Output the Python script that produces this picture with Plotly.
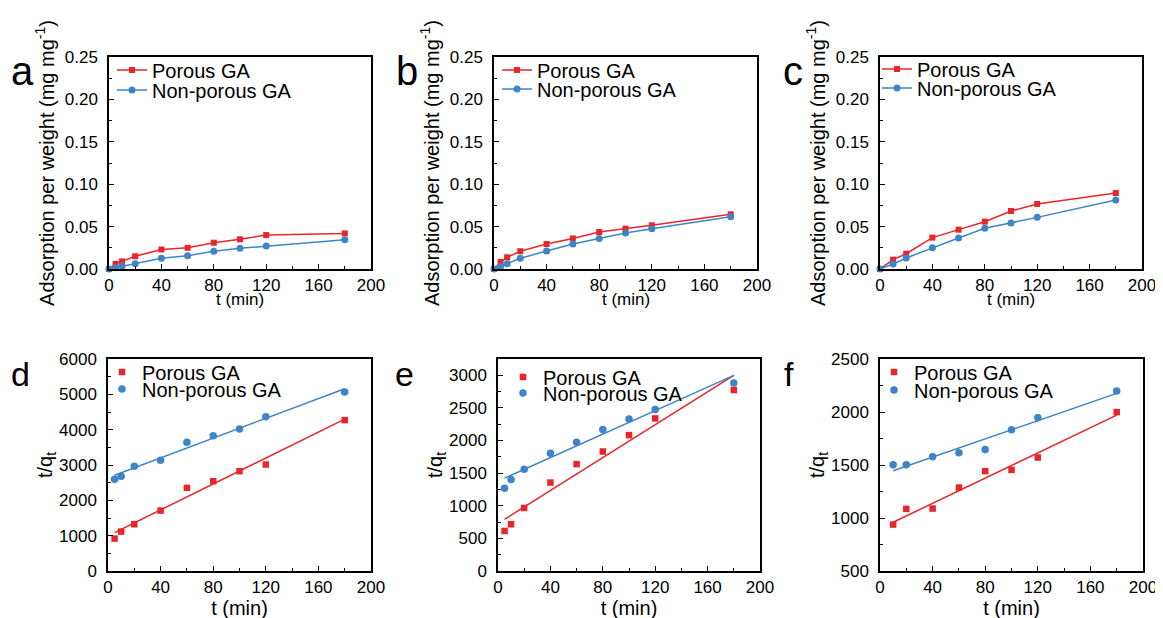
import plotly.graph_objects as go

# ---------------- data ----------------
t_a = [0, 5, 10, 20, 40, 60, 80, 100, 120, 180]
qa_porous = [0.0, 0.006, 0.009, 0.015, 0.023, 0.025, 0.031, 0.035, 0.040, 0.042]
qa_nonporous = [0.0, 0.0016, 0.0035, 0.0063, 0.0126, 0.0157, 0.021, 0.0244, 0.027, 0.0346]

t_b = [0, 5, 10, 20, 40, 60, 80, 100, 120, 180]
qb_porous = [0.0, 0.0083, 0.0138, 0.021, 0.0295, 0.036, 0.0436, 0.0476, 0.0515, 0.0645]
qb_nonporous = [0.0, 0.003, 0.0063, 0.0126, 0.0212, 0.0295, 0.036, 0.0425, 0.0476, 0.0617]

t_c = [0, 10, 20, 40, 60, 80, 100, 120, 180]
qc_porous = [0.0, 0.011, 0.018, 0.037, 0.0464, 0.0558, 0.0684, 0.0767, 0.0896]
qc_nonporous = [0.0, 0.0059, 0.013, 0.0252, 0.0366, 0.048, 0.0542, 0.0609, 0.0814]

t_d = [5, 10, 20, 40, 60, 80, 100, 120, 180]
td_porous = [917, 1115, 1323, 1710, 2353, 2542, 2825, 3014, 4271]
td_nonporous = [2599, 2684, 2967, 3137, 3647, 3827, 4016, 4366, 5065]
fit_t_d = [5, 180]
fit_d_porous = [1087, 4300]
fit_d_nonporous = [2712, 5160]

t_e = [5, 10, 20, 40, 60, 80, 100, 120, 180]
te_porous = [614, 716, 967, 1356, 1638, 1832, 2083, 2339, 2774]
te_nonporous = [1269, 1402, 1561, 1807, 1975, 2170, 2329, 2477, 2881]
fit_t_e = [5, 180]
fit_e_porous = [793, 2999]
fit_e_nonporous = [1423, 2999]

t_f = [10, 20, 40, 60, 80, 100, 120, 180]
tf_porous = [938, 1086, 1089, 1287, 1442, 1454, 1571, 1999]
tf_nonporous = [1502, 1502, 1577, 1615, 1646, 1832, 1946, 2198]
fit_t_f = [10, 180]
fit_f_porous = [960, 1971]
fit_f_nonporous = [1445, 2176]

series_names = ["Porous GA", "Non-porous GA"]
panel_letters = ["a", "b", "c", "d", "e", "f"]
x_ticks = [0, 40, 80, 120, 160, 200]
x_title = "t (min)"

# ---------------- style ----------------
W, H = 1163, 618
OFF = 8  # page body margin of the html page
RED = "#E8252B"
BLUE = "#3D85C6"
FONT = "Arial, 'Liberation Sans', sans-serif"


def px_x(p):
    return (p - OFF) / W


def px_y(p):
    return 1 - (p - OFF) / H


def xdom(p0, p1):
    return [px_x(p0), px_x(p1)]


def ydom(top, bottom):
    return [px_y(bottom), px_y(top)]


fig = go.Figure()

top_panels = [
    (t_a, qa_porous, qa_nonporous),
    (t_b, qb_porous, qb_nonporous),
    (t_c, qc_porous, qc_nonporous),
]
bottom_panels = [
    (t_d, td_porous, td_nonporous, fit_t_d, fit_d_porous, fit_d_nonporous),
    (t_e, te_porous, te_nonporous, fit_t_e, fit_e_porous, fit_e_nonporous),
    (t_f, tf_porous, tf_nonporous, fit_t_f, fit_f_porous, fit_f_nonporous),
]

legend_id = 0


def next_legend():
    global legend_id
    legend_id += 1
    return "legend" if legend_id == 1 else f"legend{legend_id}"


legend_names = []

for i, (t, qp, qn) in enumerate(top_panels):
    ax = "" if i == 0 else str(i + 1)
    lg1 = next_legend()
    lg2 = next_legend()
    legend_names.append((lg1, lg2))
    fig.add_trace(go.Scatter(
        x=t, y=qp, name=series_names[0], mode="lines+markers",
        line=dict(color=RED, width=1.5),
        marker=dict(symbol="square", size=6, color=RED),
        xaxis="x" + ax, yaxis="y" + ax, legend=lg1, cliponaxis=False))
    fig.add_trace(go.Scatter(
        x=t, y=qn, name=series_names[1], mode="lines+markers",
        line=dict(color=BLUE, width=1.5),
        marker=dict(symbol="circle", size=7, color=BLUE),
        xaxis="x" + ax, yaxis="y" + ax, legend=lg2, cliponaxis=False))

for j, (t, yp, yn, ft, fp, fn) in enumerate(bottom_panels):
    ax = str(j + 4)
    lg1 = next_legend()
    lg2 = next_legend()
    legend_names.append((lg1, lg2))
    fig.add_trace(go.Scatter(
        x=ft, y=fp, mode="lines", line=dict(color=RED, width=1.5),
        showlegend=False, xaxis="x" + ax, yaxis="y" + ax, hoverinfo="skip"))
    fig.add_trace(go.Scatter(
        x=ft, y=fn, mode="lines", line=dict(color=BLUE, width=1.5),
        showlegend=False, xaxis="x" + ax, yaxis="y" + ax, hoverinfo="skip"))
    fig.add_trace(go.Scatter(
        x=t, y=yp, name=series_names[0], mode="markers",
        marker=dict(symbol="square", size=6.5, color=RED),
        xaxis="x" + ax, yaxis="y" + ax, legend=lg1, cliponaxis=False))
    fig.add_trace(go.Scatter(
        x=t, y=yn, name=series_names[1], mode="markers",
        marker=dict(symbol="circle", size=7.5, color=BLUE),
        xaxis="x" + ax, yaxis="y" + ax, legend=lg2, cliponaxis=False))

# panel geometry (reference pixels)
xpix = [(109, 371), (494, 757), (880, 1142), (108, 371), (498, 760), (880, 1143)]
ypix = [(57, 269)] * 3 + [(359, 571)] * 3
yranges = [[0, 0.25]] * 3 + [[0, 6000], [0, 3250], [500, 2500]]
ydticks = [0.05] * 3 + [1000, 500, 500]
yminor = [0.025] * 3 + [500, 250, 250]
yfmt = [".2f"] * 3 + ["d"] * 3
ytitles = ["Adsorption per weight (mg mg<sup>-1</sup>)"] * 3 + ["t/q<sub>t</sub>"] * 3

layout = dict(
    width=W, height=H, paper_bgcolor="white", plot_bgcolor="white",
    margin=dict(l=0, r=0, t=0, b=0, autoexpand=False),
    font=dict(family=FONT, color="black", size=17),
)

annotations = []
for k in range(6):
    ax = "" if k == 0 else str(k + 1)
    top = k < 3
    xaxis = dict(
        domain=xdom(*xpix[k]), anchor="y" + ax, range=[0, 200],
        tickmode="array", tickvals=x_ticks,
        ticks="inside", ticklen=5, tickwidth=1, tickcolor="black",
        minor=dict(ticks="inside", ticklen=3, dtick=20, tickcolor="black"),
        showline=True, linecolor="black", linewidth=1.5, mirror=True,
        showgrid=False, zeroline=False, automargin=False,
        tickfont=dict(size=17), ticklabelstandoff=0,
    )
    if top:
        # the top-row axis title sits tight under its tick labels
        annotations.append(dict(
            text=x_title, x=px_x((xpix[k][0] + xpix[k][1]) / 2), y=px_y(299),
            xref="paper", yref="paper", xanchor="center", yanchor="middle",
            showarrow=False, font=dict(size=17, family=FONT, color="black")))
    else:
        xaxis["title"] = dict(text=x_title, font=dict(size=20), standoff=5)
    layout["xaxis" + ax] = xaxis
    layout["yaxis" + ax] = dict(
        domain=ydom(*ypix[k]), anchor="x" + ax, range=yranges[k],
        dtick=ydticks[k], tick0=0, tickformat=yfmt[k],
        ticks="inside", ticklen=5, tickwidth=1, tickcolor="black",
        minor=dict(ticks="inside", ticklen=3, dtick=yminor[k], tickcolor="black"),
        showline=True, linecolor="black", linewidth=1.5, mirror=True,
        showgrid=False, zeroline=False, automargin=False,
        tickfont=dict(size=17), ticklabelstandoff=6,
        title=dict(text=ytitles[k], font=dict(size=20), standoff=5 if top else 0),
    )

# legend positions: (left px, row1 centre px, row2 centre px)
leg_pos = [(112, 70, 90), (497, 70, 89), (877, 69, 88),
           (102, 372, 389), (503, 377, 393), (874, 372, 390)]
for (lg1, lg2), (lx, r1, r2) in zip(legend_names, leg_pos):
    for lg, ry in ((lg1, r1), (lg2, r2)):
        layout[lg] = dict(
            x=px_x(lx), y=px_y(ry), xanchor="left", yanchor="middle",
            bgcolor="rgba(0,0,0,0)", borderwidth=0,
            font=dict(size=20, family=FONT, color="black"),
            itemwidth=30, tracegroupgap=0,
        )

# panel letters
letter_pos = [(9, 71, 40), (394, 71, 40), (781, 71, 40),
              (9, 374, 34), (393, 374, 34), (782, 374, 34)]
for letter, (lx, ly, fs) in zip(panel_letters, letter_pos):
    annotations.append(dict(
        text=letter, x=px_x(lx), y=px_y(ly), xref="paper", yref="paper",
        xanchor="left", yanchor="middle", showarrow=False,
        font=dict(size=fs, family=FONT, color="black")))
layout["annotations"] = annotations

fig.update_layout(**layout)
fig.write_html("out.html")
